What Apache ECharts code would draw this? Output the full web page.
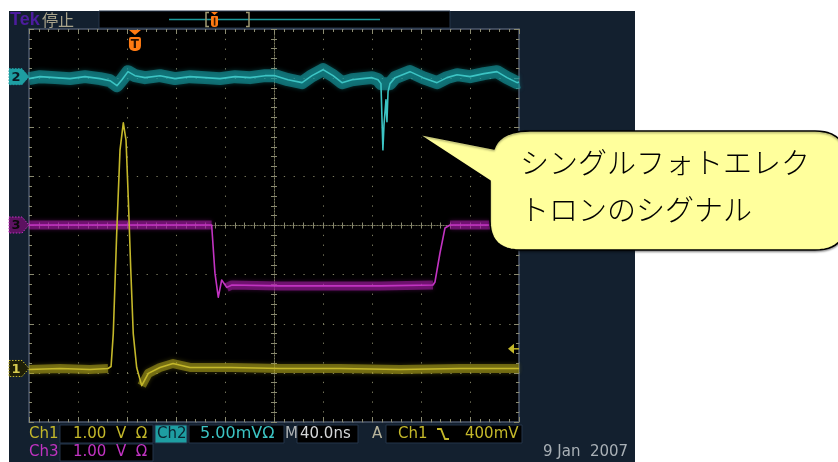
<!DOCTYPE html>
<html>
<head>
<meta charset="utf-8">
<script src="https://cdn.jsdelivr.net/npm/echarts@6/dist/echarts.min.js"></script>
<style>
  html, body { margin: 0; padding: 0; background: #ffffff; }
  #scope { width: 838px; height: 462px; }
</style>
</head>
<body>
<div id="scope"></div>
<script>
// ---- horizontal: 10 divisions of 40 ns, times measured from the left edge of the record ----
const timeDivNs = 40;
const screenCenterNs = 200;
const triggerNs = 86.5;
const triggerLevelV = 0.4;

// ---- Ch1 : anode pulse, 1.00 V/div ----
const ch1Ns = [0, 25.3, 49.8, 64.5, 67.0, 68.8, 71.6, 74.3, 77.0, 79.2, 81.1, 83.0, 85.1, 87.9, 92.0,
               97.4, 106.9, 117.6, 131.4, 164.9, 204.9, 253.9, 302.9, 351.9, 400];
const ch1V  = [-0.02, 0, -0.02, 0, 0.04, 0.71, 2.76, 4.45, 5.00, 4.65, 3.43, 2.06, 0.71, 0.02, -0.35,
               -0.10, 0.02, 0.10, 0.02, 0.02, 0, 0, -0.02, 0, 0];

// ---- Ch2 : 5.00 mV/div ----
const ch2Ns = [0, 9.0, 21.2, 33.5, 45.7, 58.0, 66.1, 71.8, 75.9, 80.8, 86.5, 94.7, 106.9, 119.2, 131.4,
               143.7, 155.9, 168.2, 180.4, 192.7, 200.8, 211.4, 222.9, 231.0, 240.0, 248.2, 255.5, 263.7,
               271.8, 280.0, 284.9, 287.3, 288.9, 289.8, 291.4, 292.2, 293.1, 294.7, 298.8, 311.0, 321.6,
               333.1, 341.2, 349.4, 360.0, 371.4, 382.0, 390.2, 398.4, 400];
const ch2MilliV = [-0.20, 0, -0.10, -0.20, 0, -0.20, -0.41, -0.92, -0.31, 0.51, 0.10, -0.10, 0.10, -0.20, 0,
                   -0.10, -0.20, 0, -0.10, 0.10, 0.10, -0.31, -0.61, 0.10, 0.71, 0.10, -0.61, -0.31,
                   -0.20, -0.10, -0.31, -0.71, -7.45, -4.90, -2.35, -4.59, -1.53, -0.71, -0.10, 0.51, -0.10,
                   -0.61, -0.10, 0.20, 0, 0.31, 0.51, -0.10, -0.61, -0.55];

// ---- Ch3 : 1.00 V/div ----
const ch3Ns = [0, 58.0, 106.9, 149.1, 151.8, 154.5, 157.3, 158.6, 161.4, 165.7, 204.9, 245.7, 286.5,
               329.8, 331.4, 335.5, 339.6, 343.7, 372.2, 400];
const ch3V  = [0, 0, 0, 0, -0.98, -1.47, -1.12, -1.08, -1.27, -1.22, -1.24, -1.24, -1.24,
               -1.22, -1.16, -0.57, -0.06, 0, 0, 0];

// vertical scale (units per division) and position (divisions above centre)
const ch1Scale = 1, ch1Pos = -2.91;
const ch2Scale = 5, ch2Pos = 3.03;
const ch3Scale = 1, ch3Pos = 0.01;

// fast edges: drawn as a thin line only, without the noise band
const ch1Edges = [[65.5, 90]];
const ch2Edges = [[288, 294]];
const ch3Edges = [[150, 160], [330.5, 343]];

// status bar texts
const ch1Setting = '1.00  V  Ω';
const ch2Setting = '5.00mVΩ';
const ch3Setting = '1.00  V  Ω';
const timebase = '40.0ns';
const trigSource = 'Ch1';
const trigLevel = '400mV';
const dateText = '9 Jan  2007';
const calloutLines = ['シングルフォトエレク', 'トロンのシグナル'];

// ---- colours ----
const C = {
  panel: '#13202f', screen: '#000000',
  grid: '#7c7c60', frame: '#4e586c', tick: '#8a8a70',
  ch1: '#c4b82a', ch1Band: 'rgba(176,166,30,0.55)',
  ch2: '#3cc4c4', ch2Band: 'rgba(22,150,156,0.62)',
  ch3: '#c233c2', ch3Band: 'rgba(160,28,160,0.58)',
  trig: '#ff7a12', text: '#b8bcc0'
};

function trace(name, ns, vals, scale, pos, edges, color, band, bandWidth, bridge) {
  const pts = ns.map((t, i) => [t - screenCenterNs, pos + vals[i] / scale]);
  const inEdge = t => edges.some(([a, b]) => t >= a && t <= b);
  const bandData = [];
  ns.forEach((t, i) => {
    if (inEdge(t)) {
      if (!bridge && bandData.length && bandData[bandData.length - 1][1] !== '-') {
        bandData.push([pts[i][0], '-']);
      }
    } else {
      bandData.push(pts[i]);
    }
  });
  return [
    { type: 'line', name: name + '-noise', data: bandData, showSymbol: false, connectNulls: false,
      silent: true, animation: false,
      lineStyle: { color: band, width: bandWidth, shadowColor: band, shadowBlur: 4, join: 'round' } },
    { type: 'line', name: name, data: pts, showSymbol: false, silent: true, animation: false,
      lineStyle: { color: color, width: 1.6, join: 'round' } }
  ];
}

function frameAxis(pos, isX, withSplit) {
  return {
    type: 'value', position: pos,
    min: isX ? -200 : -4, max: isX ? 200 : 4, interval: isX ? timeDivNs : 1,
    axisLine: { show: true, onZero: false, lineStyle: { color: C.frame, width: 1.5 } },
    axisTick: { show: true, inside: true, length: 5, lineStyle: { color: C.tick } },
    minorTick: { show: true, splitNumber: 5, length: 3, lineStyle: { color: C.tick } },
    axisLabel: { show: false },
    splitLine: { show: withSplit, lineStyle: { color: C.grid, width: 1, type: [1.3, 8.5] } }
  };
}
function centreAxis(pos, isX) {
  return {
    type: 'value', position: pos,
    min: isX ? -200 : -4, max: isX ? 200 : 4, interval: isX ? timeDivNs : 1,
    axisLine: { show: true, onZero: true, onZeroAxisIndex: 0,
                lineStyle: { color: C.grid, width: 1, type: [1, 2] } },
    axisTick: { show: true, inside: true, length: 3, lineStyle: { color: C.tick } },
    minorTick: { show: true, splitNumber: 5, length: 3, lineStyle: { color: C.tick } },
    axisLabel: { show: false },
    splitLine: { show: false }
  };
}

const chart = echarts.init(document.getElementById('scope'));
chart.setOption({
  backgroundColor: 'transparent',
  animation: false,
  grid: { left: 29, right: 319, top: 29, bottom: 40, show: true,
          backgroundColor: C.screen, borderWidth: 0 },
  xAxis: [frameAxis('bottom', true, true), frameAxis('top', true, false),
          centreAxis('bottom', true), centreAxis('top', true)],
  yAxis: [frameAxis('left', false, true), frameAxis('right', false, false),
          centreAxis('left', false), centreAxis('right', false)],
  series: [
    ...trace('Ch3', ch3Ns, ch3V, ch3Scale, ch3Pos, ch3Edges, C.ch3, C.ch3Band, 9, false),
    ...trace('Ch2', ch2Ns, ch2MilliV, ch2Scale, ch2Pos, ch2Edges, C.ch2, C.ch2Band, 13, true),
    ...trace('Ch1', ch1Ns, ch1V, ch1Scale, ch1Pos, ch1Edges, C.ch1, C.ch1Band, 9, false)
  ]
});

const px = (t, div) => chart.convertToPixel({ xAxisIndex: 0, yAxisIndex: 0 }, [t - screenCenterNs, div]);

function chanMarker(label, pos, fill, stroke, txt) {
  const y = px(0, pos)[1];
  const x0 = 9, x1 = 29;
  return [
    { type: 'polygon', z: 50,
      shape: { points: [[x0, y - 8], [x1 - 7, y - 8], [x1, y], [x1 - 7, y + 8], [x0, y + 8]] },
      style: { fill: fill, stroke: stroke, lineWidth: 1, lineDash: [1.5, 1.5] } },
    { type: 'text', z: 51, style: { text: label, x: 16, y: y + 1, fill: txt,
      fontFamily: 'DejaVu Sans', fontSize: 13, fontWeight: 'bold', align: 'center', verticalAlign: 'middle' } }
  ];
}

function label(text, x, y, fill, size, weight, family) {
  return { type: 'text', z: 52,
    style: { text: text, x: x, y: y, fill: fill, fontFamily: family || 'DejaVu Sans', fontSize: size || 15,
             fontWeight: weight || 'normal', verticalAlign: 'middle' } };
}
function box(x, y, w, h, fill) {
  return { type: 'rect', z: 51, shape: { x: x, y: y, width: w, height: h },
           style: { fill: fill || '#000', stroke: '#24344a', lineWidth: 1 } };
}

// rounded speech-bubble outline, sampled into a polygon
function bubblePoints() {
  const pts = [];
  const quad = (p0, c, p1) => {
    for (let i = 1; i <= 12; i++) {
      const t = i / 12, u = 1 - t;
      pts.push([u * u * p0[0] + 2 * u * t * c[0] + t * t * p1[0], u * u * p0[1] + 2 * u * t * c[1] + t * t * p1[1]]);
    }
  };
  pts.push([418, 134], [494, 149]);
  quad([494, 149], [500, 131], [530, 131]);
  pts.push([815, 131]);
  quad([815, 131], [846, 131], [846, 161]);
  pts.push([846, 221]);
  quad([846, 221], [846, 250], [815, 250]);
  pts.push([520, 250]);
  quad([520, 250], [490, 250], [490, 221]);
  pts.push([490, 181]);
  return pts;
}

const tx = px(triggerNs, 0)[0];
const trigY = px(0, ch1Pos + triggerLevelV / ch1Scale)[1];
const right = px(400, 0)[0];
const row1 = 434, row2 = 452;

const g = [
  // instrument panel behind the screen
  { type: 'rect', z: -100, shape: { x: 9, y: 11, width: 626, height: 451 }, style: { fill: C.panel } },
  // top bar
  label('Tek', 10, 20, '#4c1c9e', 18, 'bold', 'Liberation Sans'),
  { type: 'text', z: 52, style: { text: '停止', x: 42, y: 20, fill: '#a9a38a',
      fontFamily: 'Noto Sans CJK JP', fontSize: 16, verticalAlign: 'middle' } },
  { type: 'rect', z: 51, shape: { x: 99, y: 11, width: 351, height: 17 },
    style: { fill: '#000', stroke: '#24344a', lineWidth: 1 } },
  { type: 'line', z: 52, shape: { x1: 169, y1: 19.5, x2: 380, y2: 19.5 },
    style: { stroke: '#1c9a9c', lineWidth: 1.5 } },
  { type: 'polyline', z: 52, shape: { points: [[209, 12.5], [206, 12.5], [206, 26.5], [209, 26.5]] },
    style: { stroke: '#a09a72', lineWidth: 1.5, fill: null } },
  { type: 'polyline', z: 52, shape: { points: [[246, 12.5], [249, 12.5], [249, 26.5], [246, 26.5]] },
    style: { stroke: '#a09a72', lineWidth: 1.5, fill: null } },
  { type: 'polygon', z: 53, shape: { points: [[211, 12], [218, 12], [214.5, 15]] }, style: { fill: C.trig } },
  { type: 'rect', z: 53, shape: { x: 211, y: 16, width: 7, height: 11, r: [1, 1, 3, 3] }, style: { fill: C.trig } },
  { type: 'rect', z: 54, shape: { x: 213.8, y: 17.5, width: 1.6, height: 8 }, style: { fill: '#3a1800' } },

  // trigger position marker
  { type: 'polygon', z: 60, shape: { points: [[tx - 6, 30], [tx + 6, 30], [tx, 35]] }, style: { fill: C.trig } },
  { type: 'rect', z: 60, shape: { x: tx - 6, y: 37, width: 12, height: 14, r: [2, 2, 5, 5] },
    style: { fill: C.trig } },
  { type: 'text', z: 61, style: { text: 'T', x: tx, y: 44.5, fill: '#2a1000', fontFamily: 'DejaVu Sans',
      fontSize: 12, fontWeight: 'bold', align: 'center', verticalAlign: 'middle' } },

  // channel ground markers
  ...chanMarker('2', ch2Pos, '#1e9ea2', '#1e9ea2', '#0b1a24'),
  ...chanMarker('3', ch3Pos, '#5c1260', '#c233c2', '#0a0a0a'),
  ...chanMarker('1', ch1Pos, '#1e1e06', '#c4b82a', '#d8cc50'),

  // trigger level arrow
  { type: 'polygon', z: 60, shape: { points: [[right - 11, trigY], [right - 5, trigY - 5], [right - 5, trigY + 5]] },
    style: { fill: C.ch1 } },
  { type: 'line', z: 60, shape: { x1: right - 6, y1: trigY, x2: right, y2: trigY },
    style: { stroke: C.ch1, lineWidth: 1.5 } },

  // status bar
  label('Ch1', 29, row1, C.ch1),
  box(60, 425, 93, 18), label(ch1Setting, 73, row1, C.ch1),
  box(155, 425, 32, 18, '#1e9ea2'), label('Ch2', 157, row1, '#0b2430'),
  box(189, 425, 95, 18), label(ch2Setting, 200, row1, C.ch2, 16),
  label('M', 285, row1, '#aeb2b4'),
  box(297, 425, 61, 18), label(timebase, 300, row1, '#d4d6d8'),
  label('A', 372, row1, '#b8b49c'),
  box(386, 425, 136, 18), label(trigSource, 398, row1, C.ch1),
  { type: 'polyline', z: 52, shape: { points: [[437, row1 - 5], [441, row1 - 5], [445, row1 + 5], [449, row1 + 5]] },
    style: { stroke: C.ch1, lineWidth: 1.8, fill: null } },
  label(trigLevel, 465, row1, C.ch1),
  label('Ch3', 29, row2, C.ch3),
  box(60, 444, 93, 17), label(ch3Setting, 73, row2, C.ch3),
  label(dateText, 543, row2, '#a9b0b6', 15),

  // callout
  { type: 'polygon', z: 100, shape: { points: bubblePoints() },
    style: { fill: '#ffff9c', stroke: '#000', lineWidth: 1.6, lineJoin: 'round',
             shadowColor: 'rgba(0,0,0,0.35)', shadowBlur: 2, shadowOffsetY: 1.5 } },
  { type: 'text', z: 101, style: { text: calloutLines[0], x: 520, y: 163, fill: '#000',
      fontFamily: 'Noto Sans CJK JP', fontSize: 29, fontWeight: 300, verticalAlign: 'middle' } },
  { type: 'text', z: 101, style: { text: calloutLines[1], x: 520, y: 210, fill: '#000',
      fontFamily: 'Noto Sans CJK JP', fontSize: 29, fontWeight: 300, verticalAlign: 'middle' } }
];
chart.setOption({ graphic: { elements: g } });
</script>
</body>
</html>
